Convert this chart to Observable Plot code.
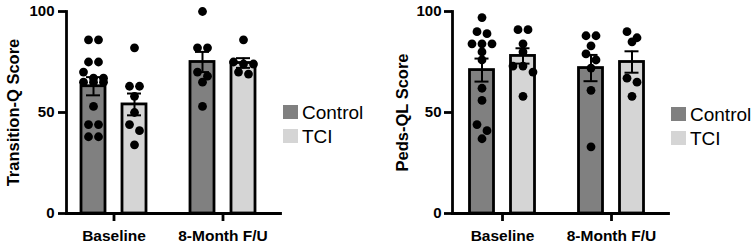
<!DOCTYPE html>
<html><head><meta charset="utf-8">
<script src="https://cdn.jsdelivr.net/npm/d3@7"></script>
<script src="https://cdn.jsdelivr.net/npm/@observablehq/plot@0.6"></script>
<style>
body{margin:0;background:#fff;}
#wrap{position:relative;width:755px;height:247px;font-family:"Liberation Sans",Arial,Helvetica,sans-serif;overflow:hidden;}
.panel{position:absolute;top:0;}
.legend{position:absolute;font-size:19px;color:#000;line-height:1;}
.legend .row{display:flex;align-items:center;height:24px;}
.legend .sw{width:15px;height:14px;margin-right:4px;flex:none;}
</style></head><body><div id="wrap"></div>
<script>
// ---- data ----
const timepoints = ["Baseline", "8-Month F/U"];
const groups = ["Control", "TCI"];
const groupColors = ["#808080", "#d5d5d5"];
const yTicks = [0, 50, 100];

// Transition-Q (order: Baseline Control, Baseline TCI, 8-Month Control, 8-Month TCI)
const tqLabel = "Transition-Q Score";
const tqMeans = [63, 54, 75, 74.5];
const tqSEM = [4.5, 5.4, 5, 2.4];
const tqBaselineControl = [86, 86, 75, 75, 70, 67, 67, 65, 65, 65, 53, 44, 44, 38, 38];
const tqBaselineTCI = [82, 63, 63, 58, 50, 44, 41, 34];
const tq8mControl = [100, 82, 82, 70, 68, 65, 53];
const tq8mTCI = [86, 75, 74, 74, 70, 69];

// Peds-QL
const pqLabel = "Peds-QL Score";
const pqMeans = [71, 78, 72, 75];
const pqSEM = [5.7, 3.8, 6.5, 5.3];
const pqBaselineControl = [97, 90, 89, 84, 84, 84, 80, 76, 62, 56, 44, 41, 37];
const pqBaselineTCI = [91, 91, 84, 80, 73, 73, 70, 58];
const pq8mControl = [88, 88, 83, 79, 76, 72, 61, 33];
const pq8mTCI = [90, 87, 85, 67, 65, 58];

// ---- layout constants (x units: 1 = distance between timepoints) ----
const PX = 109;              // pixels per x unit
const OFF = 20.5 / PX;       // bar center offset from timepoint
const HALF = 12 / PX;        // bar half width
const CAP = 7 / PX;          // error cap half width
const STEP = 10 / PX;        // dot spacing in a row
const FONT = '"Liberation Sans", Arial, Helvetica, sans-serif';

function panel(cfg) {
  const bars = [], dots = [];
  timepoints.forEach((t, ti) => groups.forEach((g, gi) => {
    const k = ti * 2 + gi;
    const xc = ti + (gi === 0 ? -OFF : OFF);
    bars.push({t, g, xc, mean: cfg.means[k], sem: cfg.sems[k]});
    const vals = [...cfg.points[k]].sort((a, b) => b - a);
    const rows = [];
    for (const v of vals) {
      const r = rows[rows.length - 1];
      if (r && r[0] - v <= 3.5) r.push(v); else rows.push([v]);
    }
    for (const r of rows) r.forEach((v, i) => dots.push({x: xc + (i - (r.length - 1) / 2) * STEP, y: v}));
  }));
  return Plot.plot({
    width: cfg.width, height: 247,
    marginLeft: cfg.ml, marginRight: 2, marginTop: 11, marginBottom: 34,
    x: {domain: [0, 1], range: cfg.range},
    y: {domain: [0, 100]},
    color: {domain: groups, range: groupColors},
    style: {fontFamily: FONT, fontSize: "15px", fontWeight: "bold", color: "#000", background: "transparent", overflow: "visible"},
    marks: [
      Plot.rectY(bars, {x1: d => d.xc - HALF, x2: d => d.xc + HALF, y1: 0, y2: "mean", fill: "g", stroke: "#000", strokeWidth: 2.8}),
      Plot.ruleX(bars, {x: "xc", y1: d => d.mean - d.sem, y2: d => d.mean + d.sem, stroke: "#000", strokeWidth: 2}),
      Plot.ruleY(bars, {x1: d => d.xc - CAP, x2: d => d.xc + CAP, y: d => d.mean + d.sem, stroke: "#000", strokeWidth: 2}),
      Plot.ruleY(bars, {x1: d => d.xc - CAP, x2: d => d.xc + CAP, y: d => d.mean - d.sem, stroke: "#000", strokeWidth: 2}),
      Plot.dot(dots, {x: "x", y: "y", r: 4.4, fill: "#000", stroke: null}),
      Plot.axisY({ticks: yTicks, tickSize: 8, tickPadding: cfg.yPad, strokeWidth: 2.8, label: null, fontSize: 15}),
      Plot.axisX({ticks: [0, 1], tickFormat: i => timepoints[i], tickSize: 8, tickPadding: 8, strokeWidth: 2.8, label: null, fontSize: 15.5}),
      Plot.frame({anchor: "left", stroke: "#000", strokeWidth: 2.8}),
      Plot.frame({anchor: "bottom", stroke: "#000", strokeWidth: 2.8}),
      Plot.text([cfg.label], {frameAnchor: "left", rotate: -90, dx: cfg.labelDx, text: d => d, textAnchor: "middle", fontSize: 16.5, fontWeight: "bold", fill: "#000"})
    ]
  });
}

function legend(left, top) {
  const div = document.createElement("div");
  div.className = "legend";
  div.style.left = left + "px";
  div.style.top = top + "px";
  groups.forEach((g, i) => {
    const row = document.createElement("div");
    row.className = "row";
    const sw = document.createElement("span");
    sw.className = "sw";
    sw.style.background = groupColors[i];
    const tx = document.createElement("span");
    tx.textContent = g;
    row.append(sw, tx);
    div.append(row);
  });
  return div;
}

const wrap = document.getElementById("wrap");
const p1 = panel({label: tqLabel, means: tqMeans, sems: tqSEM,
  points: [tqBaselineControl, tqBaselineTCI, tq8mControl, tq8mTCI],
  width: 282, ml: 66, range: [113.5, 222.5], labelDx: -53, yPad: 4});
p1.classList.add("panel"); p1.style.left = "0px";
const p2 = panel({label: pqLabel, means: pqMeans, sems: pqSEM,
  points: [pqBaselineControl, pqBaselineTCI, pq8mControl, pq8mTCI],
  width: 290, ml: 72, range: [122, 231], labelDx: -50, yPad: 3});
p2.classList.add("panel"); p2.style.left = "380px";
wrap.append(p1, p2, legend(283, 100), legend(671, 102));
</script>
</body></html>
